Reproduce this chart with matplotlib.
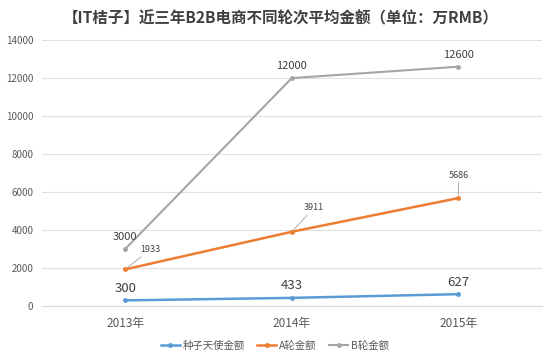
import matplotlib
matplotlib.use("Agg")
import matplotlib.pyplot as plt

plt.rcParams['font.family'] = ['Noto Sans CJK SC', 'DejaVu Sans']

years = ["2013年", "2014年", "2015年"]
seed = [300, 433, 627]
round_a = [1933, 3911, 5686]
round_b = [3000, 12000, 12600]
series_names = ["种子天使金额", "A轮金额", "B轮金额"]

blue = "#5B9BD5"
orange = "#ED7D31"
gray = "#A5A5A5"

fig = plt.figure(figsize=(5.5, 3.58), dpi=100)
ax = fig.add_axes([0.076, 0.145, 0.909, 0.743])

x = list(range(len(years)))
ax.plot(x, seed, color=blue, lw=1.8, marker="o", ms=2.5, label=series_names[0])
ax.plot(x, round_a, color=orange, lw=1.8, marker="o", ms=2.5, label=series_names[1])
ax.plot(x, round_b, color=gray, lw=1.5, marker="o", ms=2.5, label=series_names[2])

# data labels
for xi, v in zip(x, seed):
    ax.annotate(str(v), (xi, v), xytext=(0, 4), textcoords="offset points",
                ha="center", va="bottom", fontsize=9.5, color="#404040")
for xi, v in zip(x, round_b):
    ax.annotate(str(v), (xi, v), xytext=(0, 5), textcoords="offset points",
                ha="center", va="bottom", fontsize=8, color="#404040")
offsets_a = [(18, 11), (16, 14), (0, 13)]
for xi, v, off in zip(x, round_a, offsets_a):
    ax.annotate(str(v), (xi, v), xytext=off, textcoords="offset points",
                ha="center", va="bottom", fontsize=6.5, color="#404040",
                arrowprops=dict(arrowstyle="-", color="#A0A0A0", lw=0.6,
                                shrinkA=0, shrinkB=2))

ax.set_xlim(-0.5, 2.5)
ax.set_ylim(0, 14000)
ax.set_yticks(range(0, 14001, 2000))
ax.set_xticks(x)
ax.set_xticklabels(years)
ax.grid(axis="y", color="#E0E0E0", lw=0.8)
ax.set_axisbelow(True)
for s in ["top", "right", "left"]:
    ax.spines[s].set_visible(False)
ax.spines["bottom"].set_color("#D9D9D9")
ax.tick_params(axis="y", length=0, labelsize=7, labelcolor="#595959", pad=6)
ax.tick_params(axis="x", length=0, labelsize=8.5, labelcolor="#595959", pad=8)

fig.suptitle("【IT桔子】近三年B2B电商不同轮次平均金额（单位：万RMB）",
             x=0.51, y=0.97, fontsize=11.2, fontweight="bold", color="#404040")

fig.legend(loc="lower center", bbox_to_anchor=(0.5, -0.005), ncol=3, frameon=False,
           fontsize=7.5, labelcolor="#595959", handlelength=1.8, columnspacing=1.2,
           handletextpad=0.3)

fig.savefig("out.png", dpi=100)
